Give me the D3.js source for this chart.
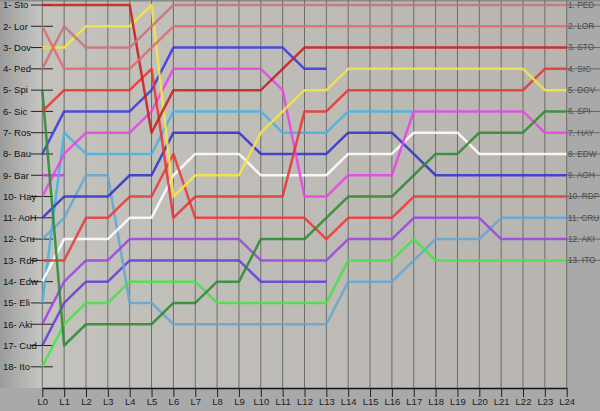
<!DOCTYPE html>
<html><head><meta charset="utf-8">
<script src="https://cdn.jsdelivr.net/npm/d3@7"></script>
<style>html,body{margin:0;padding:0;background:#aaa;}svg{display:block;}</style>
</head><body><svg id="c" width="600" height="411"></svg>
<script>
const lapLabels = d3.range(25).map(i => "L" + i);
const startLabels = ["1- Sto","2- Lor","3- Dov","4- Ped","5- Spi","6- Sic","7- Ros","8- Bau","9- Bar","10- Hay","11- AoH","12- Cru","13- RdP","14- Edw","15- Eli","16- Aki","17- Cud","18- Ito"];
const finishLabels = ["1. PED","2. LOR","3. STO","4. SIC","5. DOV","6. SPI","7. HAY","8. EDW","9. AOH","10. RDP","11. CRU","12. AKI","13. ITO"];

const drivers = ["Bar","Cud","Bau","Eli","Cru","Ito","Aki","Edw","RdP","AoH","Hay","Spi","Sic","Dov","Sto","Lor","Ped"];
const posBar = [9,9];
const posCud = [17,15,14,14,13,13,13,13,13,13,14,14,14,14];
const posBau = [8,6,6,6,6,5,3,3,3,3,3,3,4,4];
const posEli = [15,7,8,8,8,8,6,6,6,6,6,7,7,7,6,6,6,6];
const posCru = [12,11,9,9,15,15,16,16,16,16,16,16,16,16,14,14,14,13,12,12,12,11,11,11,11];
const posIto = [18,16,15,15,14,14,14,14,15,15,15,15,15,15,13,13,13,12,13,13,13,13,13,13,13];
const posAki = [16,14,13,13,12,12,12,12,12,12,13,13,13,13,12,12,12,11,11,11,11,12,12,12,12];
const posEdw = [14,12,12,12,11,11,9,8,8,8,9,9,9,9,8,8,8,7,7,7,8,8,8,8,8];
const posRdP = [13,13,11,11,10,10,8,11,11,11,11,11,11,12,11,11,11,10,10,10,10,10,10,10,10];
const posAoH = [11,10,10,10,9,9,7,7,7,7,8,8,8,8,7,7,7,8,9,9,9,9,9,9,9];
const posHay = [10,8,7,7,7,6,4,4,4,4,4,5,10,10,9,9,9,6,6,6,6,6,6,7,7];
const posSpi = [5,17,16,16,16,16,15,15,14,14,12,12,12,11,10,10,10,9,8,8,7,7,7,6,6];
const posSic = [6,5,5,5,5,4,11,10,10,10,10,10,6,6,5,5,5,5,5,5,5,5,5,4,4];
const posDov = [3,3,2,2,2,1,10,9,9,9,7,6,5,5,4,4,4,4,4,4,4,4,4,5,5];
const posSto = [1,1,1,1,1,7,5,5,5,5,5,4,3,3,3,3,3,3,3,3,3,3,3,3,3];
const posLor = [2,4,4,4,4,3,2,2,2,2,2,2,2,2,2,2,2,2,2,2,2,2,2,2,2];
const posPed = [4,2,3,3,3,2,1,1,1,1,1,1,1,1,1,1,1,1,1,1,1,1,1,1,1];
const series = [posBar,posCud,posBau,posEli,posCru,posIto,posAki,posEdw,posRdP,posAoH,posHay,posSpi,posSic,posDov,posSto,posLor,posPed];
const colors = ["#b848d8","#6a3cd8","#3a3ae0","#44b4e4","#64a6d2","#46e446","#9c44e4","#ffffff","#e83a3a","#3434cc","#e844e8","#2f8a32","#e83434","#f2e646","#c42222","#e46a6a","#c87478"];

const svg = d3.select("#c");
const x = d3.scaleLinear().domain([0,24]).range([42.3,566.7]);
const y = d3.scaleLinear().domain([1,18]).range([5,366.8]);
const axisY = 388;

const defs = svg.append("defs");
const lg = defs.append("linearGradient").attr("id","lg").attr("x1","0").attr("x2","1").attr("y1","0").attr("y2","0");
lg.append("stop").attr("offset","0").attr("stop-color","#9c9c9c");
lg.append("stop").attr("offset","1").attr("stop-color","#c6c6c4");
const pg = defs.append("linearGradient").attr("id","pg").attr("x1","0").attr("x2","1").attr("y1","0").attr("y2","0");
pg.append("stop").attr("offset","0").attr("stop-color","#c4c2bd");
pg.append("stop").attr("offset","1").attr("stop-color","#b8b5b0");

svg.append("rect").attr("width",600).attr("height",411).attr("fill","#a9a9a9");
svg.append("rect").attr("x",0).attr("y",0).attr("width",x(0)).attr("height",axisY).attr("fill","url(#lg)");
svg.append("rect").attr("x",x(0)).attr("y",0).attr("width",x(24)-x(0)).attr("height",axisY).attr("fill","url(#pg)");
svg.append("rect").attr("x",0).attr("y",0).attr("width",600).attr("height",1.5).attr("fill","#8a8a8a");

// grid
svg.append("g").selectAll("line").data(d3.range(25)).join("line")
  .attr("x1",d=>x(d)).attr("x2",d=>x(d)).attr("y1",0).attr("y2",axisY)
  .attr("stroke","#6c6c6c").attr("stroke-width",1);

// left labels & ticks
const lf = svg.append("g");
lf.selectAll("line").data(startLabels).join("line")
  .attr("x1",31).attr("x2",53).attr("y1",(d,i)=>y(i+1)).attr("y2",(d,i)=>y(i+1))
  .attr("stroke","#222").attr("stroke-width",1);
lf.selectAll("text").data(startLabels).join("text")
  .attr("x",3).attr("y",(d,i)=>y(i+1)).attr("dy","0.35em")
  .attr("font-family","Liberation Sans, Arial, sans-serif").attr("font-size",9.5).attr("fill","#111")
  .text(d=>d);

// lines
const line = d3.line().x((d,i)=>x(i)).y(d=>y(d));
svg.append("g").selectAll("path").data(series).join("path")
  .attr("d",d=>line(d)).attr("fill","none")
  .attr("stroke",(d,i)=>colors[i]).attr("stroke-width",2.5)
  .attr("stroke-opacity",0.88).attr("stroke-linejoin","round");

// right labels
const rf = svg.append("g");
rf.selectAll("text").data(finishLabels).join("text")
  .attr("x",568).attr("y",(d,i)=>y(i+1)).attr("dy","0.35em")
  .attr("font-family","Liberation Sans, Arial, sans-serif").attr("font-size",8.3).attr("fill","#4a4a4a")
  .text(d=>d);
rf.selectAll("line").data(finishLabels).join("line")
  .attr("x1",x(24)).attr("x2",600).attr("y1",(d,i)=>y(i+1)).attr("y2",(d,i)=>y(i+1))
  .attr("stroke","#555").attr("stroke-width",1).attr("stroke-opacity",0.8);

// x axis
const xa = svg.append("g").attr("transform",`translate(0,${axisY})`)
  .call(d3.axisBottom(x).tickValues(d3.range(25)).tickFormat(i=>lapLabels[i]).tickSize(9).tickSizeOuter(0));
xa.select(".domain").attr("stroke","#111").attr("stroke-width",1.5);
xa.selectAll(".tick line").attr("stroke","#222");
xa.selectAll(".tick text").attr("font-family","Liberation Sans, Arial, sans-serif").attr("font-size",9.5).attr("fill","#222").attr("dy","0.55em");
</script></body></html>
